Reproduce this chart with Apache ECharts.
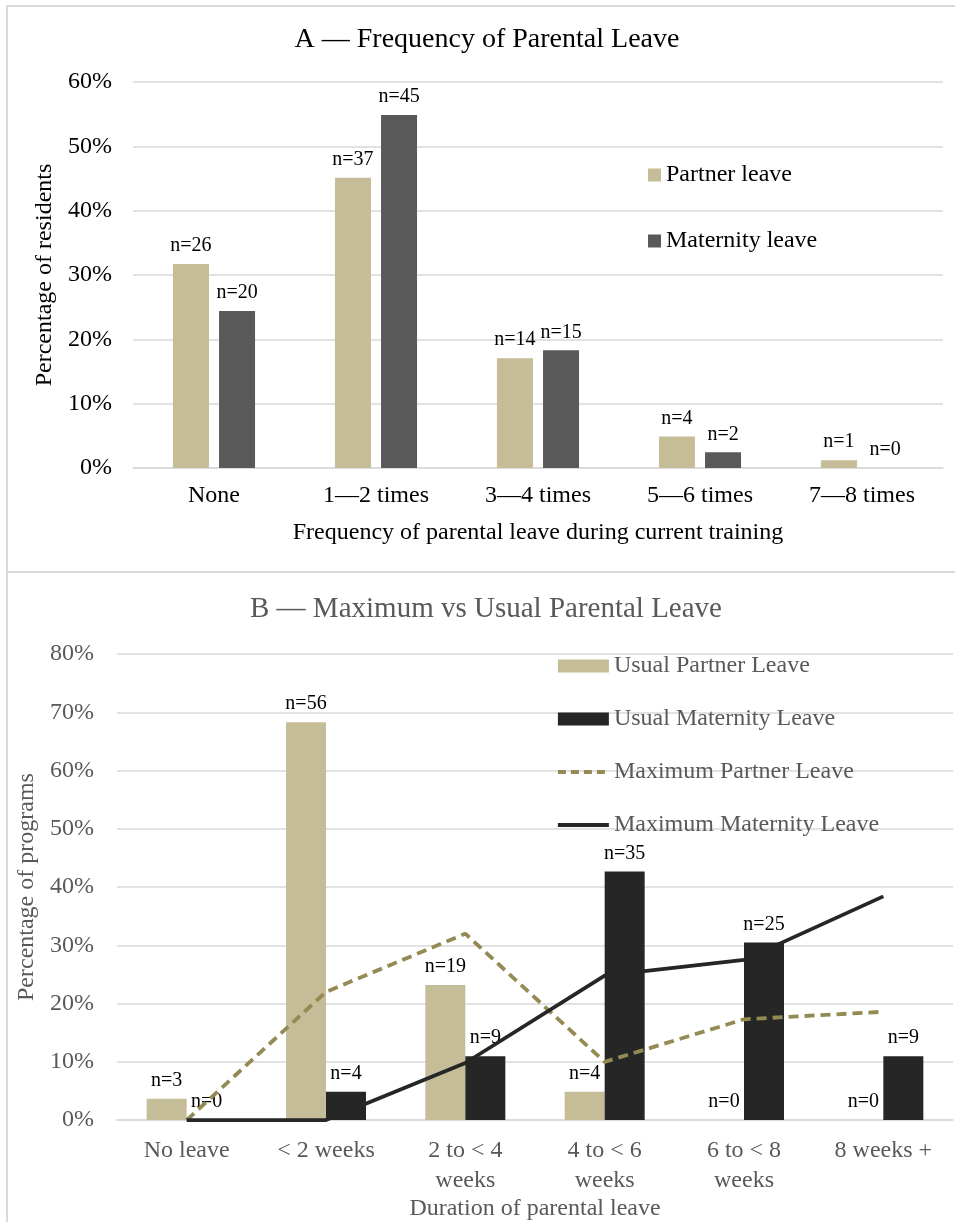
<!DOCTYPE html>
<html>
<head>
<meta charset="utf-8">
<title>Parental Leave</title>
<script src="https://cdn.jsdelivr.net/npm/echarts@6/dist/echarts.min.js"></script>
<style>
  html, body { margin: 0; padding: 0; background: #fff; }
  #chart { width: 955px; height: 1222px; }
</style>
</head>
<body>
<div id="chart"></div>
<script>
// Panel A: how often residents took leave during current training
const freqCategories = ['None', '1\u20142 times', '3\u20144 times', '5\u20146 times', '7\u20148 times'];
const residentsTotal = 82;
const partnerLeaveN = [26, 37, 14, 4, 1];
const maternityLeaveN = [20, 45, 15, 2, 0];
const freqTicks = [0, 10, 20, 30, 40, 50, 60];

// Panel B: maximum vs usual leave offered by programs
const durationCategories = ['No leave', '< 2 weeks', '2 to < 4\nweeks', '4 to < 6\nweeks', '6 to < 8\nweeks', '8 weeks +'];
const programsTotal = 82;
const usualPartnerN = [3, 56, 19, 4, 0, 0];
const usualMaternityN = [0, 4, 9, 35, 25, 9];
const maxPartnerPct = [0, 22.0, 32.0, 10.0, 17.3, 18.6];
const maxMaternityPct = [0, 0, 9.8, 24.8, 27.5, 38.4];
const durationTicks = [0, 10, 20, 30, 40, 50, 60, 70, 80];

const FONT = "'Liberation Serif', 'Times New Roman', serif";
const C_TAN = '#C4BD97';
const C_GREY = '#595959';
const C_BLACK = '#262626';
const C_OLIVE = '#948A54';
const C_GRID = '#d9d9d9';
const LINE_W = 3.8;
const DASH = [10, 6];

const pct = (arr, total) => arr.map(n => n / total * 100);
const nLabel = counts => ({
  show: true,
  position: 'top',
  distance: 8,
  fontFamily: FONT,
  fontSize: 20,
  color: '#000',
  formatter: p => 'n=' + counts[p.dataIndex]
});

const chart = echarts.init(document.getElementById('chart'), null, { renderer: 'canvas' });

const option = {
  backgroundColor: '#fff',
  animation: false,
  textStyle: { fontFamily: FONT },
  title: [
    {
      text: 'A \u2014 Frequency of Parental Leave',
      left: 487, top: 26, textAlign: 'center', padding: 0,
      textStyle: { fontFamily: FONT, fontSize: 28, fontWeight: 'normal', color: '#000' }
    },
    {
      text: 'B \u2014 Maximum vs Usual Parental Leave',
      left: 486, top: 595, textAlign: 'center', padding: 0,
      textStyle: { fontFamily: FONT, fontSize: 29, fontWeight: 'normal', color: C_GREY }
    }
  ],
  legend: [
    {
      orient: 'vertical', left: 648, top: 163, padding: 0,
      itemWidth: 13, itemHeight: 13, itemGap: 42, icon: 'rect',
      textStyle: { fontFamily: FONT, fontSize: 24, color: '#000' },
      data: ['Partner leave', 'Maternity leave']
    },
    {
      orient: 'vertical', left: 556, top: 654, padding: 0,
      itemWidth: 51, itemHeight: 13, itemGap: 29,
      textStyle: { fontFamily: FONT, fontSize: 24, color: C_GREY },
      data: [
        { name: 'Usual Partner Leave', icon: 'rect' },
        { name: 'Usual Maternity Leave', icon: 'rect' },
        { name: 'Maximum Partner Leave', itemStyle: { opacity: 0 }, lineStyle: { width: LINE_W, type: [8, 5] } },
        { name: 'Maximum Maternity Leave', itemStyle: { opacity: 0 }, lineStyle: { width: LINE_W } }
      ]
    }
  ],
  grid: [
    { left: 133, right: 12, top: 82, bottom: 754 },
    { left: 117, right: 2, top: 654, bottom: 100.5 }
  ],
  xAxis: [
    {
      type: 'category', gridIndex: 0, data: freqCategories,
      axisTick: { show: false },
      axisLine: { lineStyle: { color: C_GRID, width: 1.5 } },
      axisLabel: { fontFamily: FONT, fontSize: 24, color: '#000', margin: 16, interval: 0 },
      name: 'Frequency of parental leave during current training',
      nameLocation: 'middle', nameGap: 53,
      nameTextStyle: { fontFamily: FONT, fontSize: 24, color: '#000' }
    },
    {
      type: 'category', gridIndex: 1, data: durationCategories,
      axisTick: { show: false },
      axisLine: { lineStyle: { color: C_GRID, width: 1.5 } },
      axisLabel: { fontFamily: FONT, fontSize: 24, color: C_GREY, margin: 16, interval: 0, lineHeight: 30 },
      name: 'Duration of parental leave',
      nameLocation: 'middle', nameGap: 75,
      nameTextStyle: { fontFamily: FONT, fontSize: 24, color: C_GREY }
    }
  ],
  yAxis: [
    {
      type: 'value', gridIndex: 0,
      min: freqTicks[0], max: freqTicks[freqTicks.length - 1], interval: 10,
      axisLine: { show: false }, axisTick: { show: false },
      splitLine: { lineStyle: { color: C_GRID, width: 1.5 } },
      axisLabel: { fontFamily: FONT, fontSize: 24, color: '#000', margin: 21, formatter: '{value}%' },
      name: 'Percentage of residents',
      nameLocation: 'middle', nameGap: 68,
      nameTextStyle: { fontFamily: FONT, fontSize: 24, color: '#000' }
    },
    {
      type: 'value', gridIndex: 1,
      min: durationTicks[0], max: durationTicks[durationTicks.length - 1], interval: 10,
      axisLine: { show: false }, axisTick: { show: false },
      splitLine: { lineStyle: { color: C_GRID, width: 1.5 } },
      axisLabel: { fontFamily: FONT, fontSize: 24, color: C_GREY, margin: 23, formatter: '{value}%' },
      name: 'Percentage of programs',
      nameLocation: 'middle', nameGap: 75,
      nameTextStyle: { fontFamily: FONT, fontSize: 24, color: C_GREY }
    }
  ],
  series: [
    {
      name: 'Partner leave', type: 'bar', xAxisIndex: 0, yAxisIndex: 0,
      data: pct(partnerLeaveN, residentsTotal),
      barWidth: 36, barGap: '28%',
      itemStyle: { color: C_TAN },
      label: nLabel(partnerLeaveN)
    },
    {
      name: 'Maternity leave', type: 'bar', xAxisIndex: 0, yAxisIndex: 0,
      data: pct(maternityLeaveN, residentsTotal),
      barWidth: 36, barGap: '28%',
      itemStyle: { color: C_GREY },
      label: nLabel(maternityLeaveN)
    },
    {
      name: 'Usual Partner Leave', type: 'bar', xAxisIndex: 1, yAxisIndex: 1,
      data: pct(usualPartnerN, programsTotal),
      barWidth: 40, barGap: '0%',
      itemStyle: { color: C_TAN },
      label: nLabel(usualPartnerN)
    },
    {
      name: 'Usual Maternity Leave', type: 'bar', xAxisIndex: 1, yAxisIndex: 1,
      data: pct(usualMaternityN, programsTotal),
      barWidth: 40, barGap: '0%',
      itemStyle: { color: C_BLACK },
      label: nLabel(usualMaternityN)
    },
    {
      name: 'Maximum Partner Leave', type: 'line', xAxisIndex: 1, yAxisIndex: 1,
      data: maxPartnerPct, symbol: 'none', z: 5,
      lineStyle: { color: C_OLIVE, width: LINE_W, type: DASH },
      itemStyle: { color: C_OLIVE }
    },
    {
      name: 'Maximum Maternity Leave', type: 'line', xAxisIndex: 1, yAxisIndex: 1,
      data: maxMaternityPct, symbol: 'none', z: 5,
      lineStyle: { color: C_BLACK, width: LINE_W },
      itemStyle: { color: C_BLACK }
    }
  ],
  graphic: [
    { type: 'line', shape: { x1: 7, y1: 5, x2: 7, y2: 1222 }, style: { stroke: C_GRID, lineWidth: 2 }, silent: true },
    { type: 'line', shape: { x1: 7, y1: 6, x2: 955, y2: 6 }, style: { stroke: C_GRID, lineWidth: 2 }, silent: true },
    { type: 'line', shape: { x1: 7, y1: 572, x2: 955, y2: 572 }, style: { stroke: C_GRID, lineWidth: 2 }, silent: true }
  ]
};

chart.setOption(option);
</script>
</body>
</html>
